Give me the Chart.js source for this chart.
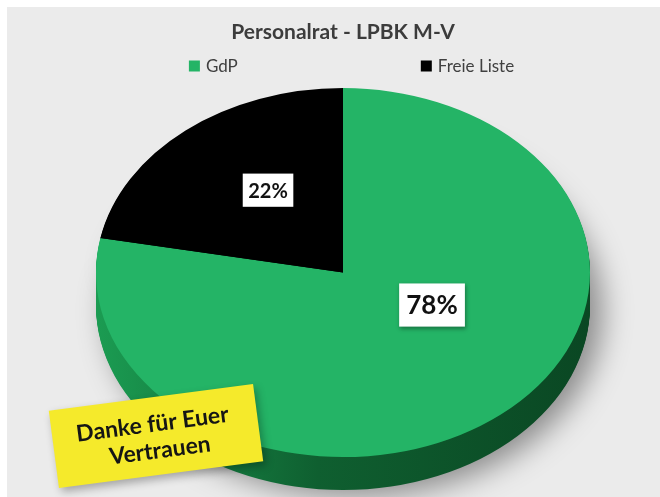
<!DOCTYPE html>
<html>
<head>
<meta charset="utf-8">
<script src="https://cdn.jsdelivr.net/npm/chart.js@4/dist/chart.umd.min.js"></script>
<style>
  html, body { margin: 0; padding: 0; background: #ffffff; }
  #wrap { width: 660px; height: 497px; position: relative; }
</style>
</head>
<body>
<div id="wrap"><canvas id="c"></canvas></div>
<script>
// ---- data ----
const chartTitle = 'Personalrat - LPBK M-V';
const categories = ['GdP', 'Freie Liste'];
const values = [78, 22];
const percentLabels = ['78%', '22%'];
const noteLines = ['Danke für Euer', 'Vertrauen'];

// ---- styles ----
const sliceColors = ['#24b466', '#000000'];
const sideStops = [
  [[0, '#1b9c52'], [0.45, '#0f5f30'], [1, '#0a4723']],
  [[0, '#000000'], [1, '#000000']]
];
const labelFontSizes = [26, 20];
const labelPlacement = [{ r: 0.401, shift: -24.4 }, { r: 0.540, shift: 5.4 }];
const tilt = 0.747;   // vertical squash of the pie
const depth = 33;     // thickness of pie side
const FONT = 'Lato, "Open Sans", sans-serif';

function ellipse(ctx, cx, cy, dy) {
  ctx.translate(cx, cy + dy);
  ctx.scale(1, tilt);
  ctx.translate(-cx, -cy);
}

const bgPlugin = {
  id: 'bg',
  beforeDraw(chart) {
    const ctx = chart.ctx;
    ctx.save();
    ctx.fillStyle = '#ffffff';
    ctx.fillRect(0, 0, chart.width, chart.height);
    ctx.fillStyle = '#ebebeb';
    ctx.fillRect(7, 7, chart.width - 7, chart.height - 7);
    ctx.restore();
  }
};

const piePlugin = {
  id: 'pie3d',
  beforeDatasetsDraw(chart) {
    const ctx = chart.ctx;
    const arcs = chart.getDatasetMeta(0).data;
    const p0 = arcs[0].getProps(['x', 'y', 'outerRadius'], true);
    const cx = p0.x, cy = p0.y, R = p0.outerRadius;
    for (let d = depth; d >= 1; d--) {
      ctx.save();
      if (d === depth) {
        ctx.shadowColor = 'rgba(0,0,0,0.42)';
        ctx.shadowBlur = 30;
        ctx.shadowOffsetX = 12;
        ctx.shadowOffsetY = 6;
      }
      ellipse(ctx, cx, cy, d);
      arcs.forEach((arc, i) => {
        const p = arc.getProps(['x', 'y', 'startAngle', 'endAngle', 'outerRadius'], true);
        const g = ctx.createLinearGradient(cx - R, 0, cx + R, 0);
        sideStops[i].forEach(s => g.addColorStop(s[0], s[1]));
        ctx.fillStyle = g;
        ctx.beginPath();
        ctx.moveTo(p.x, p.y);
        ctx.arc(p.x, p.y, p.outerRadius, p.startAngle, p.endAngle);
        ctx.closePath();
        ctx.fill();
      });
      ctx.restore();
    }
    ctx.save();
    ellipse(ctx, cx, cy, 0);
  },
  afterDatasetsDraw(chart) {
    const ctx = chart.ctx;
    ctx.restore();
    const arcs = chart.getDatasetMeta(0).data;
    arcs.forEach((arc, i) => {
      const p = arc.getProps(['x', 'y', 'startAngle', 'endAngle', 'outerRadius'], true);
      const a = (p.startAngle + p.endAngle) / 2 + labelPlacement[i].shift * Math.PI / 180;
      const rr = p.outerRadius * labelPlacement[i].r;
      const x = p.x + Math.cos(a) * rr;
      const y = p.y + Math.sin(a) * rr * tilt;
      const fs = labelFontSizes[i];
      ctx.save();
      ctx.font = 'bold ' + fs + 'px ' + FONT;
      const tw = ctx.measureText(percentLabels[i]).width;
      const bw = tw + fs * 0.55, bh = fs * 1.66;
      ctx.shadowColor = 'rgba(0,0,0,0.35)';
      ctx.shadowBlur = 4;
      ctx.shadowOffsetX = 1;
      ctx.shadowOffsetY = 2;
      ctx.fillStyle = '#ffffff';
      ctx.fillRect(x - bw / 2, y - bh / 2, bw, bh);
      ctx.shadowColor = 'transparent';
      ctx.fillStyle = '#111111';
      ctx.textAlign = 'center';
      ctx.textBaseline = 'middle';
      ctx.fillText(percentLabels[i], x, y + 1);
      ctx.restore();
    });
  },
  afterDraw(chart) {
    const ctx = chart.ctx;
    // legend
    ctx.save();
    ctx.font = '17px ' + FONT;
    ctx.textBaseline = 'middle';
    const box = 11, gapText = 6, gapItems = 183, ly = 66;
    const widths = categories.map(c => box + gapText + ctx.measureText(c).width);
    const total = widths.reduce((s, w) => s + w, 0) + gapItems * (categories.length - 1);
    let x = 351.5 - total / 2;
    categories.forEach((c, i) => {
      ctx.fillStyle = sliceColors[i];
      ctx.fillRect(x, ly - box / 2, box, box);
      ctx.fillStyle = '#404040';
      ctx.fillText(c, x + box + gapText, ly + 1);
      x += widths[i] + gapItems;
    });
    ctx.restore();
    // note
    ctx.save();
    ctx.translate(156, 436);
    ctx.rotate(-7.5 * Math.PI / 180);
    ctx.shadowColor = 'rgba(0,0,0,0.3)';
    ctx.shadowBlur = 8;
    ctx.shadowOffsetX = 3;
    ctx.shadowOffsetY = 4;
    ctx.fillStyle = '#f5ea2b';
    ctx.fillRect(-103, -39, 206, 78);
    ctx.shadowColor = 'transparent';
    ctx.fillStyle = '#151515';
    ctx.font = 'bold 23px ' + FONT;
    ctx.textAlign = 'center';
    ctx.textBaseline = 'middle';
    ctx.fillText(noteLines[0], -2, -12);
    ctx.fillText(noteLines[1], 2, 15);
    ctx.restore();
  }
};

new Chart(document.getElementById('c'), {
  type: 'pie',
  data: {
    labels: categories,
    datasets: [{
      data: values,
      backgroundColor: sliceColors,
      borderWidth: 0,
      clip: false,
      hoverOffset: 0
    }]
  },
  options: {
    responsive: true,
    maintainAspectRatio: false,
    animation: false,
    radius: 247,
    layout: { padding: { left: 26, right: 0, top: 0, bottom: 32 } },
    plugins: {
      legend: { display: false },
      tooltip: { enabled: false },
      title: {
        display: true,
        text: chartTitle,
        color: '#3c3c3c',
        font: { family: FONT, size: 21, weight: 'bold' },
        padding: { top: 20, bottom: 35 }
      }
    },
    events: []
  },
  plugins: [bgPlugin, piePlugin]
});
</script>
</body>
</html>
